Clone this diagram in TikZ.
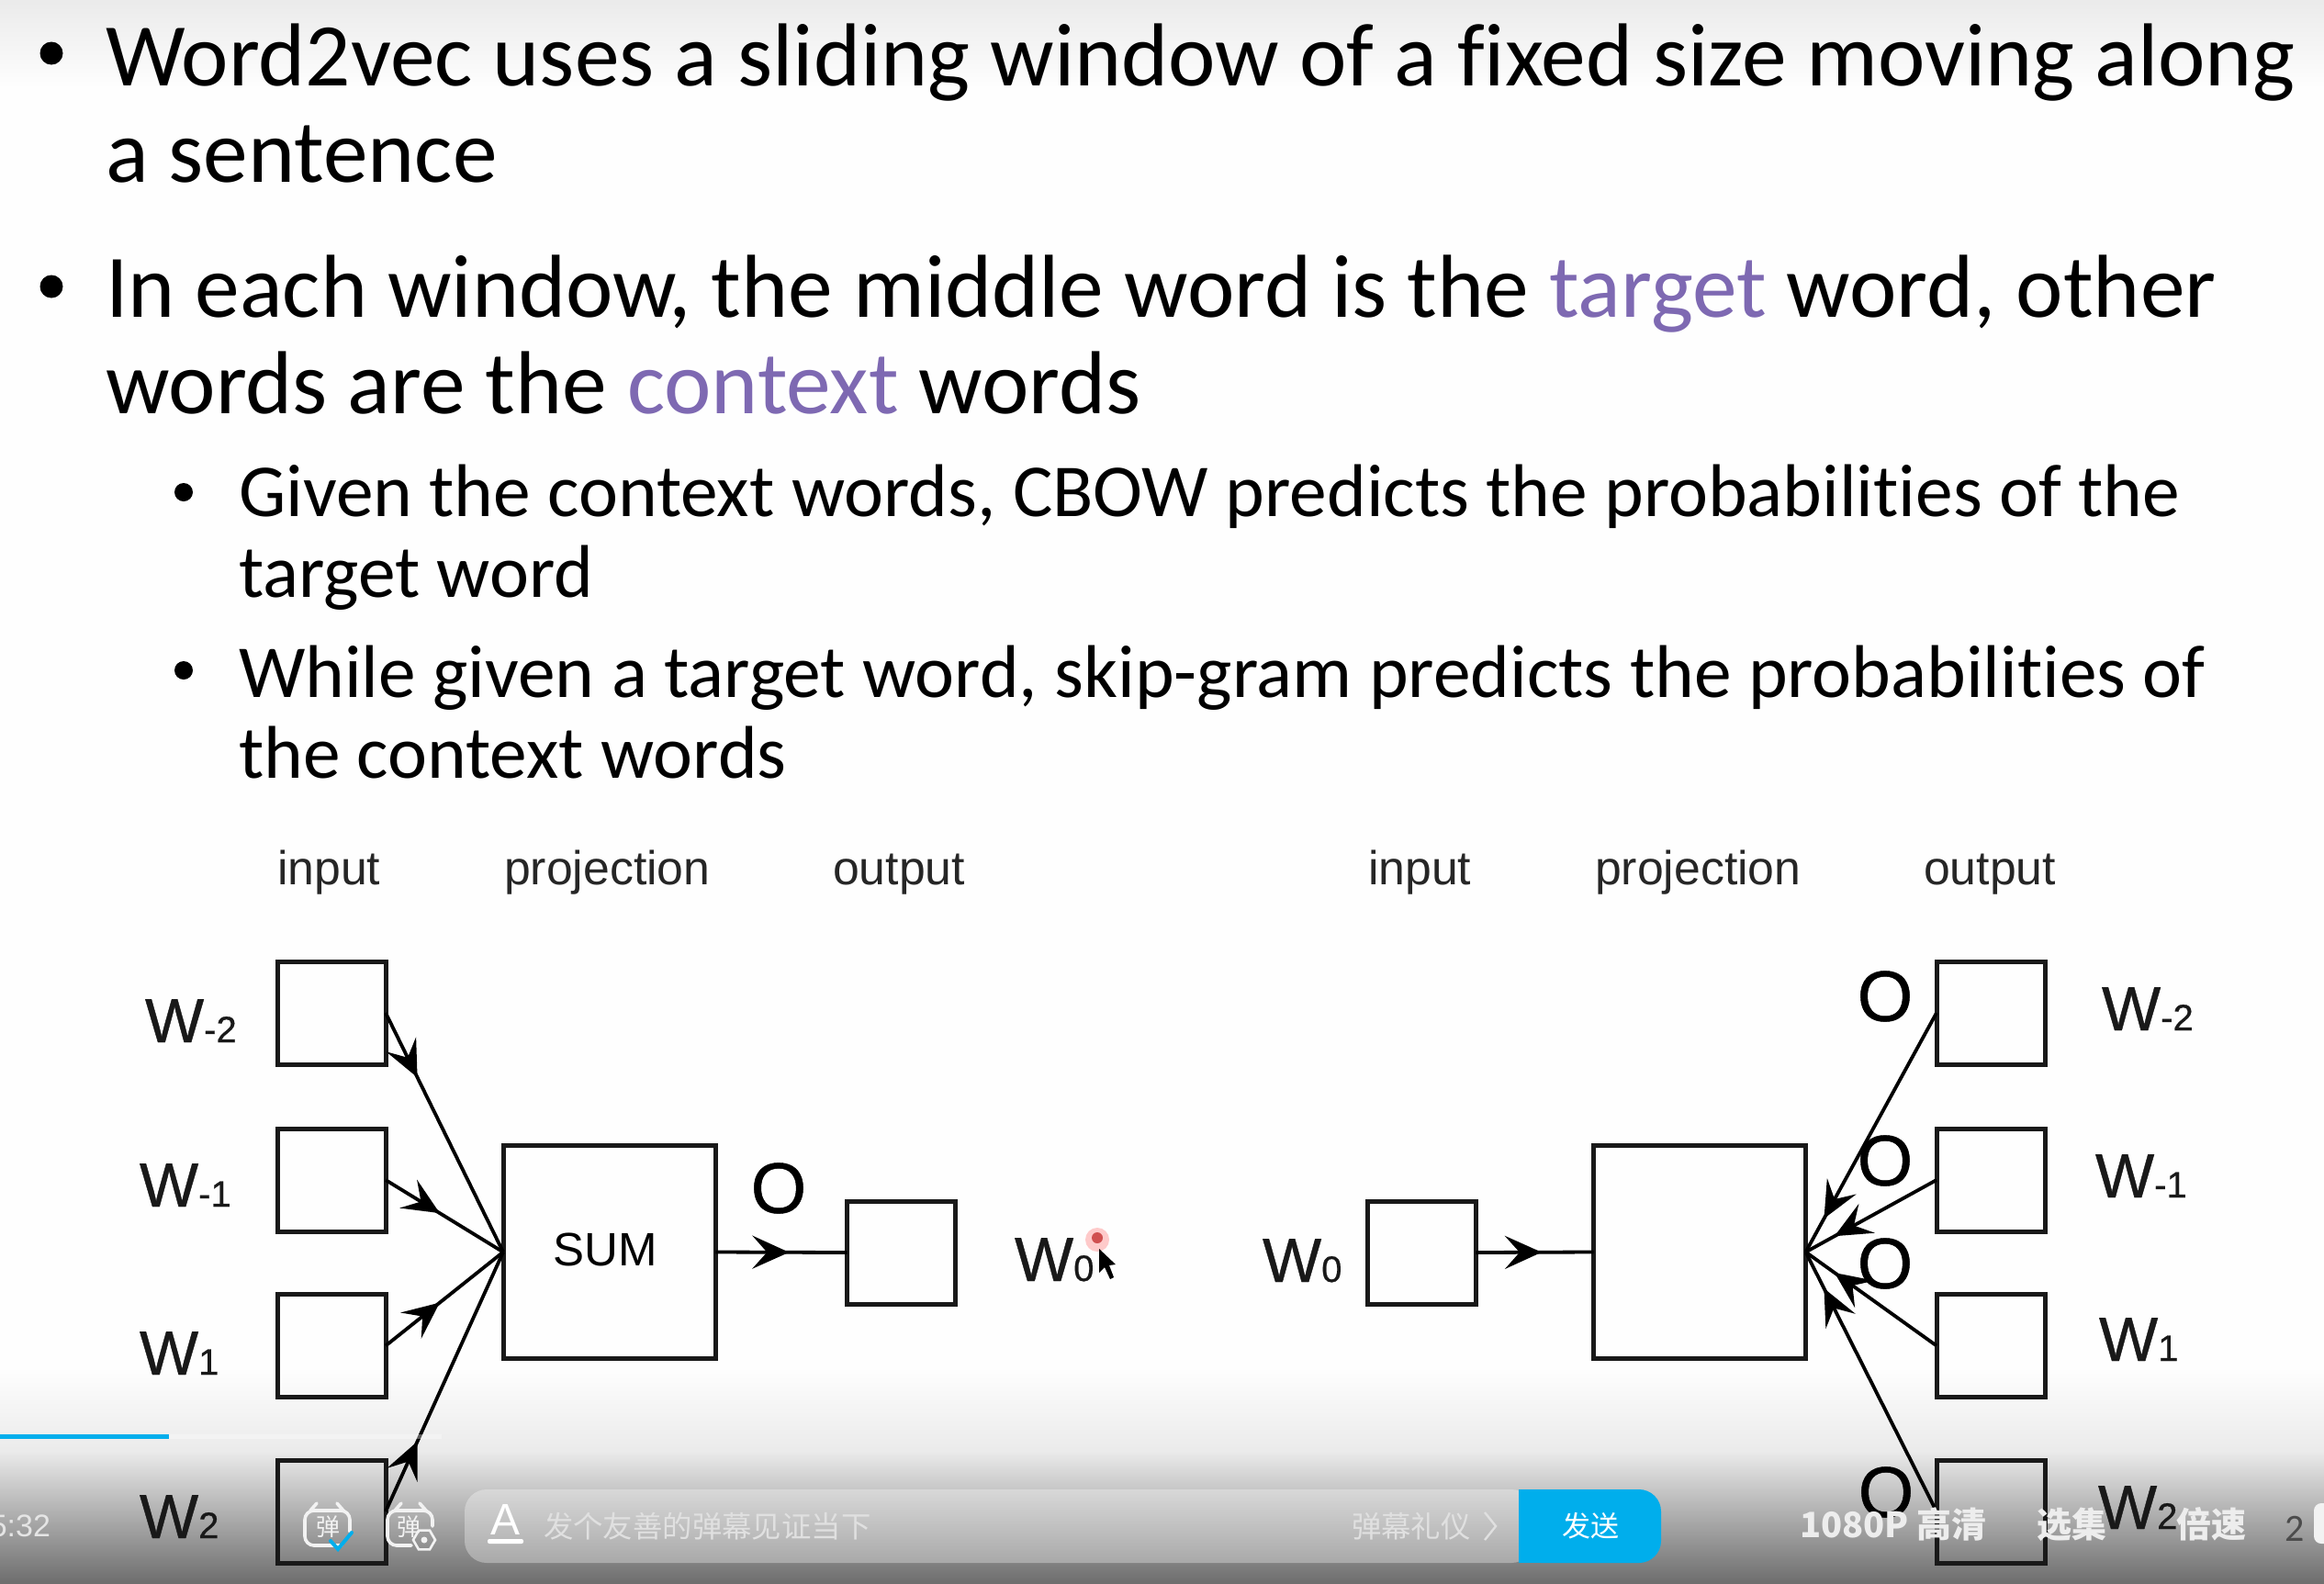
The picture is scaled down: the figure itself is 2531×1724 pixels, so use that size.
\documentclass[tikz,border=0pt]{standalone}
\usepackage{fontspec}
\setmainfont[Ligatures={NoCommon}]{Carlito}
\newfontfamily\arialf{Liberation Sans}
\newfontfamily\arialb[FakeBold=0.6]{Liberation Sans}
\newfontfamily\cjk{Noto Sans CJK SC}
\usetikzlibrary{arrows.meta,decorations.markings,shapes.geometric}
\definecolor{purpleword}{HTML}{7E69B2}
\definecolor{bili}{HTML}{00AEEC}
\newcommand{\Wl}[2]{{\arialb\fontsize{34}{36}\selectfont W\fontsize{20}{22}\selectfont #1#2}}
\tikzset{
  x=0.5pt,y=-0.5pt,
  every node/.style={inner sep=0pt,outer sep=0pt},
  bigline/.style={anchor=base west,font=\fontsize{48.7}{52}\selectfont},
  subline/.style={anchor=base west,font=\fontsize{40.7}{44}\selectfont},
  hdr/.style={anchor=base west,font=\arialf\fontsize{25.9}{28}\selectfont,text=black!85},
  wlabel/.style={anchor=base west,text=black!90},
  olabel/.style={font=\arialb\fontsize{39}{41}\selectfont},
  smallbox/.style={draw=black!90,line width=2.5pt,minimum width=59pt,minimum height=56pt},
  bigbox/.style={draw=black!90,line width=2.5pt,minimum width=115.5pt,minimum height=116pt},
  conn/.style={draw=black,line width=1.9pt},
  tipat/.style={postaction={decorate},decoration={markings,mark=at position #1 with {\arrow{Stealth[length=20pt,width=18pt,inset=8pt]}}}},
  uitext/.style={font=\cjk\fontsize{16.2}{18}\selectfont,text=white!88!black},
  uibold/.style={font=\cjk\bfseries\fontsize{19}{21}\selectfont,text=white!93!black},
  icon/.style={draw=white!95!black,line width=1.8pt,line cap=round},
}
\begin{document}
\begin{tikzpicture}
\useasboundingbox (0,0) rectangle (2531,1724);
% background and gradients
\fill[white!99.5!black] (0,0) rectangle (2531,1724);
\fill[top color=black!8,bottom color=white!99.5!black] (0,0) rectangle (2531,95);
\fill[top color=white!99.5!black,bottom color=black!8] (0,1490) rectangle (2531,1580);
\fill[top color=black!8,bottom color=black!57] (0,1580) rectangle (2531,1724);
% bullets
\fill (56,58) circle (12.5);
\fill (56,312) circle (12.5);
\fill (200,536) circle (10);
\fill (200,730) circle (10);
% text
\node[bigline] (t1) at (115,93) {Word2vec uses a sliding window of a fixed size moving along};
\node[bigline] (t2) at (115,198) {a sentence};
\node[bigline] (t3) at (115,345) {In each window, the middle word is the \textcolor{purpleword}{target} word, other};
\node[bigline] (t4) at (115,450) {words are the \textcolor{purpleword}{context} words};
\node[subline] (s1) at (260,562) {Given the context words, CBOW predicts the probabilities of the};
\node[subline] (s2) at (260,650) {target word};
\node[subline] (s3) at (260,759) {While given a target word, skip-gram predicts the probabilities of};
\node[subline] (s4) at (260,847) {the context words};
% headers
\node[hdr] (h1) at (302,963) {input};
\node[hdr] (h2) at (549,963) {projection};
\node[hdr] (h3) at (907,963) {output};
\node[hdr] (h4) at (1490,963) {input};
\node[hdr] (h5) at (1737,963) {projection};
\node[hdr] (h6) at (2095,963) {output};
% CBOW
\node[smallbox] (a1) at (361,1103) {};
\node[smallbox] (a2) at (361,1285) {};
\node[smallbox] (a3) at (361,1465.5) {};
\node[smallbox] (a4) at (361,1646) {};
\node[bigbox] (sum) at (663.5,1363.5) {};
\node[font=\arialf\fontsize{25.5}{27}\selectfont] (sumt) at (659,1361) {SUM};
\node[smallbox] (out) at (981.5,1364) {};
\path[conn,tipat=0.27] (a1.east) -- (sum.west);
\path[conn,tipat=0.46] (a2.east) -- (sum.west);
\path[conn,tipat=0.46] (a3.east) -- (sum.west);
\path[conn,tipat=0.27] (a4.east) -- (sum.west);
\path[conn,tipat=0.56] (sum.east) -- (out.west);
\node[olabel] (o0) at (848,1294) {O};
\node[wlabel] (wa1) at (158,1135) {\Wl{-}{2}};
\node[wlabel] (wa2) at (152,1314) {\Wl{-}{1}};
\node[wlabel] (wa3) at (152,1497) {\Wl{}{1}};
\node[wlabel] (wa4) at (152,1675) {\Wl{}{2}};
\node[wlabel] (wa5) at (1105,1395) {\Wl{}{0}};
% red pointer dot and cursor
\fill[red!45,opacity=.45] (1195,1350) circle (13);
\fill[red!70!black,opacity=.6] (1195,1348) circle (6);
\fill[black] (1197,1360) -- (1197,1386) -- (1203,1380) -- (1209,1393) -- (1213,1391) -- (1208,1378) -- (1215,1377) -- cycle;
% Skip-gram
\node[smallbox] (in) at (1548,1364) {};
\node[bigbox] (proj) at (1851,1363.5) {};
\node[smallbox] (b1) at (2168,1103) {};
\node[smallbox] (b2) at (2168,1285) {};
\node[smallbox] (b3) at (2168,1465.5) {};
\node[smallbox] (b4) at (2168,1646) {};
\path[conn,tipat=0.56] (in.east) -- (proj.west);
\path[conn,tipat=0.86] (b1.west) -- (proj.east);
\path[conn,tipat=0.78] (b2.west) -- (proj.east);
\path[conn,tipat=0.78] (b3.west) -- (proj.east);
\path[conn,tipat=0.86] (b4.west) -- (proj.east);
\node[olabel] (o1) at (2053,1085) {O};
\node[olabel] (o2) at (2053,1264) {O};
\node[olabel] (o3) at (2053,1376) {O};
\node[olabel] (o4) at (2054,1625) {O};
\node[wlabel] (wb0) at (1375,1396) {\Wl{}{0}};
\node[wlabel] (wb1) at (2289,1122) {\Wl{-}{2}};
\node[wlabel] (wb2) at (2282,1304) {\Wl{-}{1}};
\node[wlabel] (wb3) at (2286,1482) {\Wl{}{1}};
\node[wlabel] (wb4) at (2285,1665) {\Wl{}{2}};
% player UI
\fill[white,opacity=.35] (0,1562) rectangle (481,1567);
\fill[bili] (0,1562) rectangle (184,1567);
\node[anchor=base east,font=\arialf\fontsize{17}{19}\selectfont,text=white!90!black] (time) at (55,1673) {5:32};
% danmaku icons
\draw[icon] (338,1645) -- (345,1637) (374,1645) -- (367,1637);
\draw[icon,rounded corners=5pt] (372,1683) -- (332,1683) -- (332,1645) -- (381,1645) -- (381,1668);
\node[font=\cjk\fontsize{13}{14}\selectfont,text=white!95!black] (i1) at (357,1663) {弹};
\draw[bili,line width=2pt,line cap=round] (360,1678) -- (368,1687) -- (383,1669);
\draw[icon] (430,1645) -- (437,1637) (464,1645) -- (457,1637);
\draw[icon,rounded corners=5pt] (448,1683) -- (422,1683) -- (422,1645) -- (471,1645) -- (471,1662);
\node[font=\cjk\fontsize{13}{14}\selectfont,text=white!95!black] (i2) at (445,1663) {弹};
\node[regular polygon,regular polygon sides=6,draw=white!95!black,line width=1.3pt,minimum size=12pt] (gear) at (462,1677) {};
\fill[white!95!black] (gear.center) circle (3.5);
% input pill
\fill[white,opacity=.32,rounded corners=12pt] (506,1622) rectangle (1670,1702);
\fill[bili,rounded corners=12pt] (1654,1622) -- (1809,1622) -- (1809,1702) -- (1654,1702) [sharp corners] -- cycle;
\fill[bili] (1654,1622) rectangle (1700,1702);
\node[font=\cjk\fontsize{15.5}{17}\selectfont,text=white] (send) at (1732,1662) {发送};
\node[font=\arialf\fontsize{24}{26}\selectfont,text=white] (fonta) at (551,1655) {A};
\fill[white,rounded corners=1pt] (531,1676) rectangle (570,1681);
\node[uitext,anchor=west] (ph) at (592,1662) {发个友善的弹幕见证当下};
\node[uitext,anchor=west] (li) at (1472,1662) {弹幕礼仪};
\draw[white!88!black,line width=1.2pt] (1617,1647) -- (1629,1662) -- (1617,1677);
\node[uibold,anchor=west] (q) at (1960,1660) {1080P 高清};
\node[uibold,anchor=west] (sel) at (2218,1660) {选集};
\node[uibold,anchor=west] (spd) at (2370,1660) {倍速};
\node[anchor=base west,font=\fontsize{21}{23}\selectfont,text=black!70] (two) at (2488,1678) {2};
\fill[white!95!black,rounded corners=4pt] (2520,1637) rectangle (2560,1681);
\end{tikzpicture}
\end{document}
